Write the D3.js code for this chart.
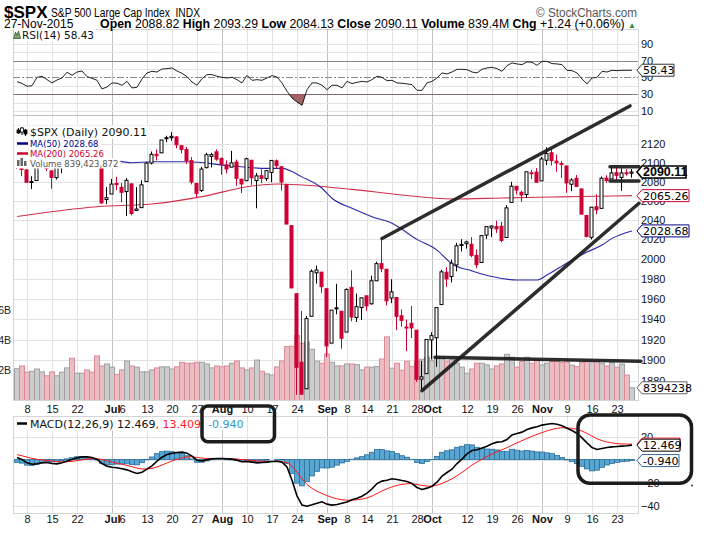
<!DOCTYPE html>
<html>
<head>
<meta charset="utf-8">
<script src="https://cdn.jsdelivr.net/npm/d3@7"></script>
<style>
  body { margin: 0; background: #fff; }
  svg { display: block; }
  text { white-space: pre; }
</style>
</head>
<body>
<svg id="chart" width="706" height="534"></svg>
<script>
// trading days Jun 4 .. Nov 27, 2015
var dates = [
  '06-04','06-05','06-08','06-09','06-10','06-11','06-12','06-15','06-16','06-17','06-18','06-19',
  '06-22','06-23','06-24','06-25','06-26','06-29','06-30',
  '07-01','07-02','07-06','07-07','07-08','07-09','07-10','07-13','07-14','07-15','07-16','07-17',
  '07-20','07-21','07-22','07-23','07-24','07-27','07-28','07-29','07-30','07-31',
  '08-03','08-04','08-05','08-06','08-07','08-10','08-11','08-12','08-13','08-14','08-17','08-18',
  '08-19','08-20','08-21','08-24','08-25','08-26','08-27','08-28','08-31',
  '09-01','09-02','09-03','09-04','09-08','09-09','09-10','09-11','09-14','09-15','09-16','09-17',
  '09-18','09-21','09-22','09-23','09-24','09-25','09-28','09-29','09-30',
  '10-01','10-02','10-05','10-06','10-07','10-08','10-09','10-12','10-13','10-14','10-15','10-16',
  '10-19','10-20','10-21','10-22','10-23','10-26','10-27','10-28','10-29','10-30',
  '11-02','11-03','11-04','11-05','11-06','11-09','11-10','11-11','11-12','11-13','11-16','11-17',
  '11-18','11-19','11-20','11-23','11-24','11-25','11-27'
];

var opens = [
  2112.35,2095.09,2092.34,2079.07,2081.12,2106.24,2107.43,2091.34,2084.26,2097.40,2101.58,2121.06,
  2112.50,2123.16,2123.65,2109.96,2102.62,2098.63,2061.19,
  2067.00,2078.03,2073.95,2069.52,2077.66,2049.73,2052.74,2080.03,2099.72,2109.01,2110.55,2126.80,
  2126.85,2127.55,2118.21,2114.16,2102.24,2078.19,2070.75,2094.70,2106.78,2111.60,
  2104.49,2097.68,2095.27,2100.75,2082.61,2080.98,2102.66,2081.10,2086.19,2083.15,2089.70,2101.99,
  2095.69,2076.61,2034.08,1965.15,1898.08,1872.75,1942.77,1986.06,1986.73,
  1970.09,1916.52,1950.79,1947.76,1927.30,1971.45,1941.59,1951.45,1963.06,1955.10,1978.02,1995.33,
  1989.66,1960.84,1961.39,1943.24,1932.24,1935.93,1929.18,1881.90,1887.14,
  1919.65,1921.77,1954.33,1986.63,1982.34,1994.01,2013.73,2015.65,2015.00,2003.66,1996.47,2024.37,
  2031.73,2033.13,2033.47,2021.88,2058.19,2075.08,2068.75,2066.48,2088.35,2090.00,
  2080.76,2102.63,2110.60,2101.68,2098.60,2096.56,2077.19,2083.41,2072.29,2044.64,2022.08,2053.67,
  2051.99,2083.70,2082.82,2089.41,2084.42,2089.30,2088.82
];
var highs = [
  2112.89,2100.99,2093.01,2085.62,2108.50,2115.02,2107.43,2091.34,2097.40,2106.79,2126.65,2121.64,
  2129.87,2125.10,2125.10,2116.04,2108.92,2098.63,2074.28,
  2082.78,2085.06,2078.61,2083.74,2077.66,2074.28,2081.31,2100.67,2111.98,2114.14,2124.42,2128.91,
  2132.82,2128.49,2118.51,2116.87,2106.01,2078.19,2095.60,2110.60,2110.48,2114.24,
  2105.70,2102.51,2112.66,2103.32,2082.61,2105.35,2102.66,2089.06,2092.93,2092.45,2102.87,2103.47,
  2096.17,2076.61,2034.08,1965.15,1948.04,1943.09,1989.60,1993.48,1986.73,
  1970.09,1948.91,1975.01,1947.76,1970.42,1988.63,1965.29,1961.05,1963.06,1983.19,1997.26,2020.86,
  1989.66,1979.64,1961.39,1949.52,1939.43,1952.89,1929.18,1899.48,1920.53,
  1927.21,1951.36,1989.17,1991.62,1999.31,2016.50,2020.13,2018.66,2022.34,2009.56,2024.15,2033.54,
  2034.45,2039.12,2037.97,2055.20,2079.74,2075.14,2070.37,2090.35,2092.52,2094.32,
  2106.20,2116.48,2114.59,2108.78,2101.91,2096.56,2083.67,2086.94,2072.29,2044.64,2053.22,2066.69,
  2085.31,2086.74,2097.06,2095.61,2094.12,2093.00,2093.29
];
var lows = [
  2093.23,2085.67,2079.11,2072.14,2081.12,2106.24,2091.33,2072.49,2082.10,2088.86,2101.58,2109.45,
  2112.50,2115.41,2108.58,2101.80,2101.30,2056.64,2056.32,
  2067.00,2071.02,2058.40,2044.02,2044.66,2049.73,2052.74,2080.03,2098.18,2102.49,2110.55,2122.01,
  2123.66,2115.40,2110.00,2098.63,2077.09,2063.52,2069.09,2094.08,2094.97,2102.07,
  2087.31,2088.60,2095.27,2075.53,2067.91,2080.98,2076.49,2052.09,2078.26,2080.61,2079.30,2094.14,
  2070.53,2035.73,1970.89,1867.01,1867.08,1872.75,1942.77,1975.19,1965.98,
  1903.07,1916.52,1944.72,1911.21,1927.30,1937.88,1937.19,1939.19,1948.27,1954.30,1977.93,1986.73,
  1953.45,1955.80,1929.22,1932.57,1908.77,1921.50,1879.21,1871.91,1887.14,
  1900.70,1893.70,1954.33,1971.99,1976.44,1987.53,2007.61,2010.55,2001.78,1990.73,1996.47,2020.46,
  2022.31,2026.61,2017.22,2021.88,2058.19,2066.53,2058.84,2063.11,2082.63,2079.34,
  2080.76,2097.51,2096.98,2090.41,2083.74,2068.24,2069.91,2074.85,2045.66,2022.02,2019.94,2045.90,
  2051.99,2078.76,2082.82,2081.39,2070.29,2086.30,2084.13
];
var closes = [
  2095.84,2092.83,2079.28,2080.15,2105.20,2108.86,2094.11,2084.43,2096.29,2100.44,2121.24,2109.99,
  2122.85,2124.20,2108.58,2102.31,2101.49,2057.64,2063.11,
  2077.42,2076.78,2068.76,2081.34,2046.68,2051.31,2076.62,2099.60,2108.95,2107.40,2124.29,2126.64,
  2128.28,2119.21,2114.15,2102.15,2079.65,2067.64,2093.25,2108.57,2108.63,2103.84,
  2098.04,2093.32,2099.84,2083.56,2077.57,2104.18,2084.07,2086.05,2083.39,2091.54,2102.44,2096.92,
  2079.61,2035.73,1970.89,1893.21,1867.61,1940.51,1987.66,1988.87,1972.18,
  1913.85,1948.86,1951.13,1921.22,1969.41,1942.04,1952.29,1961.05,1953.03,1978.09,1995.31,1990.20,
  1958.03,1966.97,1942.74,1938.76,1932.24,1931.34,1881.77,1884.09,1920.03,
  1923.82,1951.36,1987.05,1979.92,1995.83,2013.43,2014.89,2017.46,2003.69,1994.24,2023.86,2033.11,
  2033.66,2030.77,2018.94,2052.51,2075.15,2071.18,2065.89,2090.35,2089.41,2079.36,
  2104.05,2109.79,2102.31,2099.93,2099.20,2078.58,2081.72,2075.00,2045.97,2023.04,2053.19,2050.44,
  2083.58,2081.24,2089.17,2086.59,2089.14,2088.87,2090.11
];
// volume, billions of shares
var volumes = [
  2.10,2.28,1.87,1.93,2.08,1.89,1.63,1.89,1.63,1.87,
  2.15,2.79,1.80,1.80,2.02,1.87,2.94,2.28,2.41,2.20,
  1.72,2.02,2.61,2.28,2.20,1.89,1.89,2.02,2.15,2.22,
  2.22,2.08,2.22,2.52,2.46,2.46,2.52,2.52,2.41,2.15,
  2.28,2.22,2.28,2.46,2.61,2.15,2.02,2.15,2.67,1.93,
  1.76,1.68,2.22,2.61,3.56,3.58,4.30,3.78,3.85,3.38,
  2.60,2.46,3.07,2.52,2.28,2.28,2.41,2.41,2.36,2.02,
  2.20,2.20,2.24,2.74,4.20,2.13,2.46,2.00,2.59,2.24,
  2.57,2.72,2.86,2.63,2.86,2.79,2.59,2.68,2.46,2.20,
  1.80,2.08,2.46,2.46,2.35,2.08,2.28,2.41,3.05,2.86,
  2.20,2.57,2.86,2.46,2.68,2.35,2.46,2.57,2.57,2.50,
  2.55,2.33,2.24,2.52,2.57,2.57,2.63,2.46,2.28,2.50,
  2.20,2.41,1.68,0.84
];
var rsi = [
  44.8,42.7,39.3,40.0,50.0,51.2,47.2,43.3,46.8,49.2,
  56.0,52.4,56.3,57.5,50.8,48.8,46.4,36.1,38.5,43.3,
  42.9,40.5,45.2,37.3,38.1,48.0,55.2,57.1,56.3,59.9,
  60.3,61.1,57.5,54.8,50.8,44.4,40.5,48.4,53.2,53.2,
  51.2,50.0,49.2,50.0,47.2,43.3,52.4,46.4,47.2,46.4,
  49.2,52.0,50.4,43.3,33.3,25.4,20.6,16.7,35.3,43.3,
  43.3,40.5,35.3,40.5,40.5,37.3,45.2,42.5,44.0,45.2,
  44.4,47.2,51.2,50.0,46.0,46.4,43.3,42.9,42.1,41.3,
  34.5,34.5,43.3,45.2,49.2,55.2,54.0,56.3,59.5,59.5,
  59.1,56.3,55.2,59.5,61.1,61.9,60.3,57.1,63.9,67.1,
  65.9,65.1,68.3,67.9,64.3,69.0,69.0,66.3,65.9,65.1,
  58.3,57.9,55.2,48.0,42.1,49.2,50.0,57.1,56.3,58.3,
  57.9,58.3,58.3,58.43
];
var macd = [
  1.7,0.0,-2.9,-4.1,-3.8,-2.9,-2.6,-3.5,-3.8,-2.9,
  -1.4,0.0,1.4,2.3,2.3,1.7,0.3,-3.5,-5.8,-6.7,
  -7.2,-8.1,-9.0,-10.7,-12.2,-11.0,-8.4,-5.5,-1.4,2.0,
  4.3,5.5,6.1,6.4,5.5,2.9,-0.6,-1.2,-0.3,0.6,
  0.9,0.9,0.6,0.3,-0.6,-2.0,-1.7,-2.3,-2.9,-2.6,
  -2.3,-1.7,-1.4,-2.3,-6.4,-18.0,-31.6,-39.7,-40.6,-39.4,
  -38.0,-36.8,-38.8,-39.7,-39.1,-38.0,-37.0,-35.0,-33.6,-31.9,
  -29.3,-25.5,-20.9,-18.8,-18.0,-16.8,-17.4,-18.3,-19.1,-20.9,
  -24.3,-26.1,-24.9,-23.2,-19.7,-14.5,-11.3,-8.4,-3.5,0.3,
  4.9,7.8,8.4,9.9,11.6,13.6,15.1,15.4,17.4,21.4,
  22.6,23.8,26.1,27.5,28.4,29.9,30.7,31.3,30.7,29.3,
  27.2,25.2,22.6,18.8,14.5,10.4,8.7,9.6,10.4,11.0,
  11.3,11.6,11.9,12.469
];
var signal = [
  4.2,3.2,2.0,1.0,0.2,-0.4,-0.8,-1.3,-1.8,-2.0,
  -2.0,-1.6,-1.0,-0.3,0.3,0.7,0.7,0.0,-1.1,-2.2,
  -3.2,-4.2,-5.2,-6.3,-7.5,-8.2,-8.2,-7.7,-6.5,-4.8,
  -3.0,-1.3,0.2,1.4,2.2,2.4,1.8,1.2,0.9,0.8,
  0.8,0.8,0.8,0.7,0.4,-0.1,-0.4,-0.8,-1.2,-1.5,
  -1.7,-1.7,-1.6,-1.8,-2.7,-5.8,-11.0,-16.8,-21.6,-25.1,
  -27.7,-29.5,-31.4,-33.0,-34.2,-35.0,-35.4,-35.3,-35.0,-34.4,
  -33.4,-31.8,-29.6,-27.4,-25.5,-23.8,-22.5,-21.6,-21.1,-21.1,
  -21.7,-22.6,-23.1,-23.1,-22.4,-20.8,-18.9,-16.8,-14.1,-11.2,
  -8.0,-4.9,-2.2,0.2,2.5,4.7,6.8,8.5,10.3,12.5,
  14.5,16.4,18.3,20.2,21.8,23.4,24.9,26.2,27.1,27.6,
  27.5,27.1,26.2,24.7,22.7,20.3,18.0,16.4,15.2,14.4,
  13.8,13.5,13.4,13.409
];
var hist = [
  -2.5,-3.2,-4.9,-5.1,-4.0,-2.5,-1.8,-2.2,-2.0,-0.9,
  0.6,1.6,2.4,2.6,2.0,1.0,-0.4,-3.5,-4.7,-4.5,
  -4.0,-3.9,-3.8,-4.4,-4.7,-2.8,-0.2,2.2,5.1,6.8,
  7.3,6.8,5.9,5.0,3.3,0.5,-2.4,-2.4,-1.2,-0.2,
  0.1,0.1,-0.2,-0.4,-1.0,-1.9,-1.3,-1.5,-1.7,-1.1,
  -0.6,0.0,0.2,-0.5,-3.7,-12.2,-20.6,-22.9,-19.0,-14.3,
  -10.3,-7.3,-7.4,-6.7,-4.9,-3.0,-1.6,0.3,1.4,2.5,
  4.1,6.3,8.7,8.6,7.5,7.0,5.1,3.3,2.0,0.2,
  -2.6,-3.5,-1.8,-0.1,2.7,6.3,7.6,8.4,10.6,11.5,
  12.9,12.7,10.6,9.7,9.1,8.9,8.3,6.9,7.1,8.9,
  8.1,7.4,7.8,7.3,6.6,6.5,5.8,5.1,3.6,1.7,
  -0.3,-1.9,-3.6,-5.9,-8.2,-9.9,-9.3,-6.8,-4.8,-3.4,
  -2.5,-1.9,-1.5,-0.94
];
var ma50 = [
  ['06-04',2101],['06-29',2104.5],['07-08',2100],['07-14',2101],['07-23',2101],['08-05',2096.5],
  ['08-14',2094],['08-19',2094],['08-25',2085],['08-31',2073],['09-02',2062.5],['09-09',2052],
  ['09-15',2043.3],['09-21',2036.5],['09-28',2020],['10-02',2009],['10-07',1995],['10-13',1988],
  ['10-19',1982.3],['10-26',1978.8],['10-30',1978.8],['11-03',1983.8],['11-09',1996],['11-13',2007],
  ['11-18',2014.2],['11-20',2021],['11-27',2028.68]
];
var ma200 = [
  ['06-04',2043.5],['06-26',2053.7],['07-14',2056.5],['07-28',2064.2],['08-11',2075.4],['08-18',2077.5],
  ['08-25',2076.4],['09-09',2071.8],['09-23',2066],['10-07',2061.8],['10-21',2062.8],['11-04',2063.8],
  ['11-12',2064.4],['11-27',2065.26]
];
var ticks = [
  ['06-08','8'],['06-15','15'],['06-22','22'],['07-01','Jul'],['07-06','6'],['07-13','13'],['07-20','20'],
  ['07-27','27'],['08-03','Aug'],['08-10','10'],['08-17','17'],['08-24','24'],['09-01','Sep'],['09-08','8'],
  ['09-14','14'],['09-21','21'],['09-28','28'],['10-01','Oct'],['10-12','12'],['10-19','19'],['10-26','26'],
  ['11-02','Nov'],['11-09','9'],['11-16','16'],['11-23','23']
];
var priceTicks = [1880,1900,1920,1940,1960,1980,2000,2020,2040,2060,2080,2100,2120];
var rsiTicks = [90,70,50,30,10];
var macdTicks = [20,-20,-40];
var volTicks = [2,4,6];

// hand drawn chart annotations: [date, bar offset, value]
var trendLines = [
  [['09-17',0,2020.9],['11-27',-0.4,2161.3]],
  [['09-29',0,1871],['11-27',1.4,2057.3]],
  [['10-01',0.6,1902.8],['11-27',1.8,1899]],
  [['11-19',0.6,2095.8],['11-27',1.4,2095.8]],
  [['11-19',0.6,2080.7],['11-27',1.4,2080.7]]
];
var macdBoxes = [
  [['07-28',0,46.5],['08-17',0.5,15.5],6],
  [['11-11',0.2,38.7],['11-27',11.9,-20.7],12]
];

var RED = '#cc0033';
var X0 = 13, X1 = 638;
var rsiTop = 29, rsiBot = 115, mainTop = 115, mainBot = 400, macdTop = 416, macdBot = 513;
var SANS = '"Liberation Sans", Arial, sans-serif';
var VER = '"DejaVu Sans", Verdana, sans-serif';

var svg = d3.select('#chart');
var x = d3.scaleLinear().domain([0, dates.length - 1]).range([17, 632]);
var yP = d3.scaleLog().domain([1862.1, 2151.4]).range([mainBot, mainTop]);
var yV = d3.scaleLinear().domain([0, 2]).range([400.5, 370.2]);
var yR = d3.scaleLinear().domain([30, 70]).range([94.1, 60.5]);
var yM = d3.scaleLinear().domain([-20, 20]).range([482.5, 436.5]);

function kOf(d) { return dates.indexOf(d); }

var defs = svg.append('defs');
function clip(id, y0, y1) {
  defs.append('clipPath').attr('id', id).append('rect')
    .attr('x', X0).attr('y', y0).attr('width', X1 - X0).attr('height', y1 - y0);
}
clip('cR', rsiTop, rsiBot);
clip('cM', mainTop, mainBot);
clip('cD', macdTop, macdBot);
clip('cLow', yR(30), rsiBot);

// grids
function vGrid(y0, y1) {
  ticks.forEach(function (t) {
    if (t[1] === '6') return;
    var month = isNaN(+t[1]);
    var xx = Math.round(x(kOf(t[0]))) + 0.5;
    svg.append('line').attr('x1', xx).attr('x2', xx).attr('y1', y0).attr('y2', y1)
      .attr('stroke', month ? '#c2c2c2' : '#e2e2e2');
  });
}
function hLine(y, color, dash) {
  var l = svg.append('line').attr('x1', X0).attr('x2', X1)
    .attr('y1', Math.round(y) + 0.5).attr('y2', Math.round(y) + 0.5).attr('stroke', color);
  if (dash) l.attr('stroke-dasharray', dash);
}
vGrid(rsiTop, rsiBot);
vGrid(mainTop, mainBot);
vGrid(macdTop, macdBot);
[90, 80, 60, 40, 20, 10].forEach(function (v) { hLine(yR(v), '#e4e4e4'); });
d3.range(1880, 2141, 20).forEach(function (v) { hLine(yP(v), '#e2e2e2'); });
[20, 0, -20, -40].forEach(function (v) { hLine(yM(v), '#e2e2e2'); });

// RSI panel
hLine(yR(70), '#888');
hLine(yR(30), '#888');
hLine(yR(50), '#888', '7,2,2,2');
svg.append('path').datum(rsi).attr('clip-path', 'url(#cLow)')
  .attr('d', d3.area().x(function (d, k) { return x(k); }).y0(yR(30)).y1(function (d) { return yR(d); }))
  .attr('fill', '#a36363').attr('stroke', '#6b3a3a').attr('stroke-width', 0.6);
svg.append('path').datum(rsi).attr('clip-path', 'url(#cR)')
  .attr('d', d3.line().x(function (d, k) { return x(k); }).y(function (d) { return yR(d); }))
  .attr('fill', 'none').attr('stroke', '#222').attr('stroke-width', 1);

// volume overlay
var gM = svg.append('g').attr('clip-path', 'url(#cM)');
volumes.forEach(function (v, k) {
  var down = k > 0 && closes[k] < closes[k - 1];
  gM.append('rect').attr('x', x(k) - 2.5).attr('width', 5)
    .attr('y', yV(v)).attr('height', yV(0) - yV(v))
    .attr('fill', down ? '#ecbcc3' : '#cccccc')
    .attr('stroke', down ? '#d98b96' : '#a0a0a0').attr('stroke-width', 1);
});

// moving averages
function maLine(pts, color) {
  gM.append('path').datum(pts)
    .attr('d', d3.line().curve(d3.curveMonotoneX)
      .x(function (d) { return x(kOf(d[0])); }).y(function (d) { return yP(d[1]); }))
    .attr('fill', 'none').attr('stroke', color).attr('stroke-width', 1.1);
}
maLine(ma200, '#d0304a');
maLine(ma50, '#2a2aa8');

// candles
closes.forEach(function (c, k) {
  var o = opens[k];
  var prev = k > 0 ? closes[k - 1] : 2114.07;
  var col = c < prev ? RED : '#000';
  var xc = x(k) - 0.5;
  gM.append('line').attr('x1', xc).attr('x2', xc).attr('y1', yP(highs[k])).attr('y2', yP(lows[k]))
    .attr('stroke', col).attr('stroke-width', 1);
  var t = yP(Math.max(o, c)), b = yP(Math.min(o, c));
  gM.append('rect').attr('x', x(k) - 2).attr('width', 3).attr('y', t).attr('height', Math.max(b - t, 1))
    .attr('fill', c >= o ? '#fff' : col).attr('stroke', col).attr('stroke-width', 1);
});

// MACD panel
var gD = svg.append('g').attr('clip-path', 'url(#cD)');
hist.forEach(function (h, k) {
  var y0 = yM(0), y1 = yM(h);
  gD.append('rect').attr('x', x(k) - 2.5).attr('width', 5)
    .attr('y', Math.min(y0, y1)).attr('height', Math.abs(y1 - y0))
    .attr('fill', '#5aa6d3').attr('stroke', '#2b6e99').attr('stroke-width', 0.8);
});
var lineM = d3.line().x(function (d, k) { return x(k); }).y(function (d) { return yM(d); });
gD.append('path').datum(signal).attr('d', lineM).attr('fill', 'none').attr('stroke', '#ff1a1a').attr('stroke-width', 1);
gD.append('path').datum(macd).attr('d', lineM).attr('fill', 'none').attr('stroke', '#000').attr('stroke-width', 1.6);

// panel frames
[[rsiTop, rsiBot], [mainTop, mainBot], [macdTop, macdBot]].forEach(function (p) {
  svg.append('rect').attr('x', X0 + 0.5).attr('y', p[0] + 0.5).attr('width', X1 - X0).attr('height', p[1] - p[0])
    .attr('fill', 'none').attr('stroke', '#aaa').attr('stroke-dasharray', '1,1');
});

// legends
function legendRow(xx, y, size, parts) {
  var g = svg.append('g');
  var t = g.append('text').attr('x', xx).attr('y', y)
    .style('font-family', VER).style('font-size', size + 'px');
  parts.forEach(function (p) { t.append('tspan').text(p[0]).attr('fill', p[1]); });
  var bb = t.node().getBBox();
  g.insert('rect', 'text').attr('x', X0 + 1).attr('y', bb.y - 0.5)
    .attr('width', bb.x + bb.width - X0 + 1).attr('height', bb.height + 0.5).attr('fill', '#fff');
  return g;
}
legendRow(22, 39, 10.5, [['RSI(14) 58.43', '#111']]);
svg.append('path').attr('d', 'M13.5,38.5 L15.5,32 L17,35.5 L18.5,31 L20.5,38.5 Z')
  .attr('fill', '#7fa36a').attr('stroke', '#3c5a30').attr('stroke-width', 0.8);

legendRow(30, 136, 11, [['$SPX (Daily) 2090.11', '#111']]);
legendRow(30, 146.5, 8.5, [['MA(50) 2028.68', '#00008b']]);
legendRow(30, 156.5, 8.5, [['MA(200) 2065.26', RED]]);
legendRow(30, 166.5, 8.5, [['Volume 839,423,872', '#555']]);
// legend icons
[[18, 128, 134, 130, 133], [21.5, 127, 135, 128, 132], [25, 129, 136, 130, 134]].forEach(function (c) {
  svg.append('line').attr('x1', c[0] + 0.5).attr('x2', c[0] + 0.5).attr('y1', c[1]).attr('y2', c[2]).attr('stroke', '#000');
  svg.append('rect').attr('x', c[0] - 1).attr('y', c[3]).attr('width', 3).attr('height', c[4] - c[3])
    .attr('fill', c[0] === 21.5 ? '#fff' : '#000').attr('stroke', '#000').attr('stroke-width', 0.8);
});
svg.append('line').attr('x1', 17).attr('x2', 28).attr('y1', 143.5).attr('y2', 143.5).attr('stroke', '#00008b').attr('stroke-width', 2.5);
svg.append('line').attr('x1', 17).attr('x2', 28).attr('y1', 153.5).attr('y2', 153.5).attr('stroke', RED).attr('stroke-width', 2.5);
[[17, 160], [20.5, 158], [24, 161]].forEach(function (b) {
  svg.append('rect').attr('x', b[0]).attr('y', b[1]).attr('width', 2.5).attr('height', 166 - b[1]).attr('fill', '#666');
});

legendRow(30, 427.5, 11, [['MACD(12,26,9) 12.469', '#111'], [', 13.409', '#ff1a1a'], [', -0.940', '#3399cc']]);
svg.append('line').attr('x1', 17).attr('x2', 27).attr('y1', 423.5).attr('y2', 423.5).attr('stroke', '#000').attr('stroke-width', 2.5);

// right axes
function rightAxis(scale, vals) {
  var g = svg.append('g').attr('transform', 'translate(' + X1 + ',0)')
    .call(d3.axisRight(scale).tickValues(vals).tickSize(0).tickPadding(3).tickFormat(d3.format('d')));
  g.select('.domain').remove();
  g.selectAll('text').style('font-family', SANS).style('font-size', '11px').attr('fill', '#111');
}
rightAxis(yR, rsiTicks);
rightAxis(yP, priceTicks);
rightAxis(yM, macdTicks);

// volume scale on the left, partly cut by the window edge
volTicks.forEach(function (v) {
  svg.append('text').attr('x', 11).attr('y', yV(v) + 4).attr('text-anchor', 'end')
    .style('font-family', SANS).style('font-size', '10.5px').attr('fill', '#222').text(v + 'B');
});

// date axes
var tickK = ticks.map(function (t) { return kOf(t[0]); });
function dateAxis(y, pad) {
  var g = svg.append('g').attr('transform', 'translate(0,' + y + ')')
    .call(d3.axisBottom(x).tickValues(tickK).tickSize(0).tickPadding(pad)
      .tickFormat(function (d, i) { return ticks[i][1]; }));
  g.select('.domain').remove();
  g.selectAll('text').style('font-family', SANS).style('font-size', '11px').attr('fill', '#111')
    .style('font-weight', function (d, i) { return isNaN(+ticks[i][1]) ? 'bold' : 'normal'; });
}
dateAxis(mainBot, 5);
dateAxis(macdBot, 2.5);

// value tags at the right edge
function tag(y, txt, color, w, bold) {
  var g = svg.append('g');
  var x0 = X1 - 1;
  g.append('path')
    .attr('d', 'M' + x0 + ',' + y + ' L' + (x0 + 5) + ',' + (y - 6) + ' L' + (x0 + 5 + w) + ',' + (y - 6) +
      ' L' + (x0 + 5 + w) + ',' + (y + 6) + ' L' + (x0 + 5) + ',' + (y + 6) + ' Z')
    .attr('fill', '#fff').attr('stroke', color).attr('stroke-width', bold ? 1.6 : 1);
  g.append('text').attr('x', x0 + 6).attr('y', y + 4)
    .style('font-family', bold ? SANS : VER).style('font-size', bold ? '12.5px' : '11px')
    .style('font-weight', bold ? 'bold' : 'normal').attr('fill', '#000').text(txt);
}
tag(yR(58.43), '58.43', '#333', 32);
tag(yP(2065.26), '2065.26', RED, 47);
tag(yP(2028.68), '2028.68', '#000080', 47);
tag(yP(2090.11), '2090.11', '#000', 44, true);
tag(yV(0.839), '8394238', '#666', 45);
tag(yM(13.409), '13.409', '#ff1a1a', 38);
tag(yM(12.469), '12.469', '#000', 38);
tag(yM(-0.94), '-0.940', '#336699', 37);

// annotations
function pt(p, scale) { return [x(kOf(p[0]) + p[1]), scale(p[2])]; }
trendLines.forEach(function (l) {
  var a = pt(l[0], yP), b = pt(l[1], yP);
  svg.append('line').attr('x1', a[0]).attr('y1', a[1]).attr('x2', b[0]).attr('y2', b[1])
    .attr('stroke', '#1c1c1c').attr('stroke-width', 3.5).attr('stroke-linecap', 'round').attr('opacity', 0.92);
});
macdBoxes.forEach(function (bx) {
  var a = pt(bx[0], yM), b = pt(bx[1], yM);
  svg.append('rect').attr('x', a[0]).attr('y', a[1]).attr('width', b[0] - a[0]).attr('height', b[1] - a[1])
    .attr('rx', bx[2]).attr('fill', 'none').attr('stroke', '#1c1c1c').attr('stroke-width', 3.5);
});
svg.append('circle').attr('cx', 692).attr('cy', 485.5).attr('r', 1).attr('fill', '#333');

// header
svg.append('text').attr('x', 4).attr('y', 18).style('font-family', SANS).style('font-size', '17px')
  .style('font-weight', 'bold').attr('fill', '#000').text('$SPX');
svg.append('text').attr('x', 51).attr('y', 17).style('font-family', SANS)
  .style('font-size', '12.5px').attr('fill', '#000')
  .attr('textLength', 149).attr('lengthAdjust', 'spacingAndGlyphs').text('S&P 500 Large Cap Index  INDX');
svg.append('text').attr('x', 536).attr('y', 17)
  .style('font-family', SANS).style('font-size', '12.5px').attr('fill', '#555')
  .attr('textLength', 101).attr('lengthAdjust', 'spacingAndGlyphs').text('\u00a9 StockCharts.com');
svg.append('text').attr('x', 4).attr('y', 28).style('font-family', SANS).style('font-size', '12px')
  .attr('fill', '#000').text('27-Nov-2015');
var info = svg.append('text').attr('x', 636).attr('y', 28).attr('text-anchor', 'end')
  .style('font-family', SANS).style('font-size', '12.3px').attr('fill', '#000');
[['Open', 1], [' 2088.82 ', 0], ['High', 1], [' 2093.29 ', 0], ['Low', 1], [' 2084.13 ', 0],
 ['Close', 1], [' 2090.11 ', 0], ['Volume', 1], [' 839.4M ', 0], ['Chg', 1], [' +1.24 (+0.06%) ', 0]]
  .forEach(function (p) { info.append('tspan').text(p[0]).style('font-weight', p[1] ? 'bold' : 'normal'); });
info.append('tspan').text('\u25b2').attr('fill', '#2e8b2e').style('font-size', '8px');
</script>
</body>
</html>
